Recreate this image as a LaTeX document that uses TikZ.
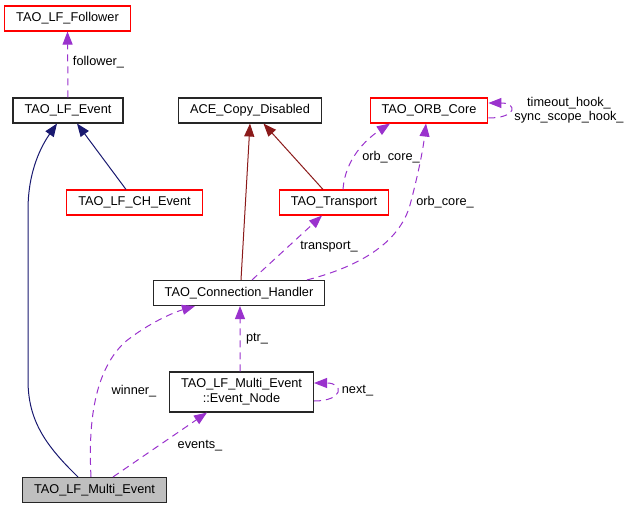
\documentclass[tikz,border=0pt]{standalone}
\usepackage{fontspec}
\setmainfont{Liberation Sans}
\usetikzlibrary{arrows.meta}

\definecolor{inhblue}{HTML}{191970}
\definecolor{privred}{HTML}{8B1A1A}
\definecolor{usepurple}{HTML}{9A32CD}
\definecolor{boxgray}{HTML}{BFBFBF}

\tikzset{
  cls/.style={draw=black!85, line width=1.1bp, inner xsep=11.5bp, inner ysep=0pt,
    minimum height=25bp, font=\fontsize{12.8}{15}\selectfont},
  redcls/.style={cls, draw=red},
  inherit/.style={inhblue, line width=1bp, -{Triangle[length=13bp,width=10bp]}},
  privinherit/.style={privred, line width=1bp, -{Triangle[length=13bp,width=10bp]}},
  uses/.style={usepurple, line width=1bp, dash pattern=on 7bp off 5bp,
    -{Triangle[length=13bp,width=10bp]}},
  lbl/.style={inner sep=0pt, font=\fontsize{12.8}{14}\selectfont}
}

\begin{document}
\begin{tikzpicture}[x=1bp, y=-1bp]

    % page frame (pixel grid of the diagram, y downwards)
    \useasboundingbox (0,0) rectangle (632,509);

    % Classes
    \node[redcls] (follower) at (67.5,18.5) {TAO\_LF\_Follower};
    \node[cls] (lfevent) at (68,110.5) {TAO\_LF\_Event};
    \node[cls] (acecopy) at (250,110.5) {ACE\_Copy\_Disabled};
    \node[redcls] (orbcore) at (429,110.5) {TAO\_ORB\_Core};
    \node[redcls] (lfchevent) at (134.5,202.5) {TAO\_LF\_CH\_Event};
    \node[redcls] (transport) at (334,202.5) {TAO\_Transport};
    \node[cls] (connhandler) at (239,293) {TAO\_Connection\_Handler};
    \node[cls, minimum height=40bp, align=center] (eventnode) at (241.5,392)
        {TAO\_LF\_Multi\_Event\\::Event\_Node};
    \node[cls, fill=boxgray] (multievent) at (94.5,490) {TAO\_LF\_Multi\_Event};

    % Inheritance
    \draw[inherit] ([xshift=-8.5bp]lfchevent.north) -- ([xshift=9bp]lfevent.south);
    \draw[inherit] ([xshift=-16.5bp]multievent.north)
        .. controls (45,445) and (28,420) .. (28,380) -- (28,210)
        .. controls (28,170) and (42,145) .. ([xshift=-11bp]lfevent.south);
    \draw[privinherit] ([xshift=2bp]connhandler.north) -- (acecopy.south);
    \draw[privinherit] ([xshift=-11bp]transport.north) -- ([xshift=13.5bp]acecopy.south);

    % Usage
    \draw[uses] (lfevent.north) -- (follower.south);
    \draw[uses] ([xshift=9bp]transport.north)
        .. controls (345,160) and (365,140) .. ([xshift=-39bp]orbcore.south);
    \draw[uses] ([xshift=68bp]connhandler.north)
        .. controls (365,265) and (400,240) .. (410,205)
        .. controls (418,175) and (423,150) .. ([xshift=-3bp]orbcore.south);
    \draw[uses] ([xshift=13bp]connhandler.north) -- ([xshift=-12bp]transport.south);
    \draw[uses] ([xshift=-3.5bp]multievent.north)
        .. controls (88,420) and (95,370) .. (125,342)
        .. controls (150,322) and (175,312) .. ([xshift=-44bp]connhandler.south);
    \draw[uses] ([xshift=18.5bp]multievent.north) -- ([xshift=-34.5bp]eventnode.south);
    \draw[uses] ([xshift=-1.5bp]eventnode.north) -- ([xshift=1bp]connhandler.south);
    \draw[uses] ([yshift=-9bp]eventnode.east)
        .. controls +(30,0) and +(30,0) .. ([yshift=9bp]eventnode.east);
    \draw[uses] ([yshift=-7.5bp]orbcore.east)
        .. controls +(29,0) and +(29,0) .. ([yshift=7.5bp]orbcore.east);

    % Labels
    \node[lbl] (lfollower) at (98.5,62) {follower\_};
    \node[lbl] (lorbcore1) at (391,157) {orb\_core\_};
    \node[lbl] (lorbcore2) at (445,202) {orb\_core\_};
    \node[lbl] (ltransport) at (329,247) {transport\_};
    \node[lbl] (lptr) at (257,339) {ptr\_};
    \node[lbl] (lwinner) at (134,391) {winner\_};
    \node[lbl] (levents) at (200,446) {events\_};
    \node[lbl] (lnext) at (357.5,391) {next\_};
    \node[lbl, align=center] (lhooks) at (569,110) {timeout\_hook\_\\sync\_scope\_hook\_};

\end{tikzpicture}
\end{document}
